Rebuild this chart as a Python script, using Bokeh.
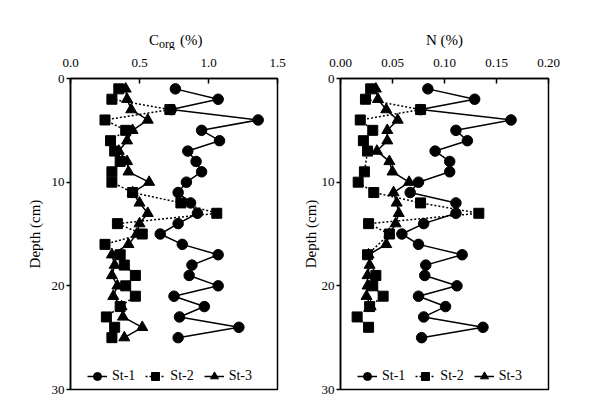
from bokeh.plotting import figure
from bokeh.models import Range1d, FixedTicker, PrintfTickFormatter, Label, Legend, LegendItem
from bokeh.layouts import row, column
from bokeh.embed import file_html
from bokeh.resources import INLINE

# ---------------- data ----------------
depth = list(range(1, 26))

corg_st1 = [0.76, 1.07, 0.73, 1.36, 0.95, 1.08, 0.85, 0.91, 0.95, 0.84, 0.78, 0.87, 0.92,
            0.78, 0.65, 0.81, 1.07, 0.88, 0.86, 1.07, 0.75, 0.97, 0.79, 1.22, 0.78]
corg_st2 = [0.35, 0.30, 0.72, 0.25, 0.40, 0.29, 0.32, 0.36, 0.30, 0.30, 0.45, 0.80, 1.06,
            0.34, 0.52, 0.25, 0.36, 0.39, 0.47, 0.40, 0.47, 0.36, 0.26, 0.32, 0.30]
corg_st3 = [0.40, 0.41, 0.44, 0.56, 0.45, 0.41, 0.35, 0.41, 0.42, 0.57, 0.45, 0.50, 0.56,
            0.50, 0.48, 0.42, 0.30, 0.32, 0.30, 0.34, 0.31, 0.37, 0.38, 0.52, 0.39]

n_st1 = [0.084, 0.129, 0.077, 0.164, 0.111, 0.122, 0.091, 0.105, 0.105, 0.075, 0.067, 0.111, 0.111,
         0.080, 0.059, 0.075, 0.117, 0.082, 0.081, 0.112, 0.075, 0.101, 0.080, 0.137, 0.078]
n_st2_depth = [1, 2, 3, 4, 5, 6, 7, 9, 10, 11, 12, 13, 14, 15, 17, 19, 20, 21, 22, 23, 24]
n_st2 = [0.029, 0.024, 0.077, 0.019, 0.031, 0.022, 0.026, 0.023, 0.017, 0.032, 0.077, 0.133,
         0.027, 0.047, 0.026, 0.034, 0.031, 0.041, 0.028, 0.016, 0.027]
n_st3_depth = list(range(1, 23))
n_st3 = [0.034, 0.036, 0.044, 0.055, 0.045, 0.045, 0.035, 0.047, 0.050, 0.066, 0.051, 0.054,
         0.056, 0.053, 0.047, 0.044, 0.027, 0.028, 0.026, 0.026, 0.025, 0.029]

series_names = ["St-1", "St-2", "St-3"]
depth_ticks = [0, 10, 20, 30]
corg_ticks = [0.0, 0.5, 1.0, 1.5]
n_ticks = [0.00, 0.05, 0.10, 0.15, 0.20]

FONT = "Liberation Serif"
FRAME_H = 311
STRIP_H = 50
TOP = 78 - STRIP_H


def make_panel(xmax, xticks, fmt, series, min_left, frame_w, min_right, ylabel_standoff):
    p = figure(width=min_left + frame_w + min_right, height=TOP + FRAME_H + 8,
               x_range=Range1d(0, xmax), y_range=Range1d(30, 0),
               x_axis_location="above", output_backend="svg", toolbar_location=None,
               min_border_left=min_left, min_border_right=min_right,
               min_border_top=TOP, min_border_bottom=8)
    p.grid.visible = False
    p.outline_line_color = "black"
    p.outline_line_width = 1.5
    p.background_fill_color = "white"
    p.border_fill_color = "white"

    xa = p.xaxis[0]
    xa.ticker = FixedTicker(ticks=xticks)
    xa.formatter = PrintfTickFormatter(format=fmt)
    xa.major_tick_in = 5
    xa.major_tick_out = 0
    xa.minor_tick_line_color = None
    xa.axis_line_width = 1.5
    xa.major_tick_line_width = 1.5
    xa.major_label_text_font = FONT
    xa.major_label_text_font_size = "13px"
    xa.major_label_text_color = "black"
    xa.major_label_standoff = 12

    ya = p.yaxis[0]
    ya.ticker = FixedTicker(ticks=depth_ticks)
    ya.major_tick_in = 0
    ya.major_tick_out = 4
    ya.minor_tick_line_color = None
    ya.axis_line_width = 1.5
    ya.major_tick_line_width = 1.5
    ya.major_label_text_font = FONT
    ya.major_label_text_font_size = "13px"
    ya.major_label_text_color = "black"
    ya.major_label_standoff = 2
    ya.axis_label = "Depth (cm)"
    ya.axis_label_text_font = FONT
    ya.axis_label_text_font_style = "normal"
    ya.axis_label_text_font_size = "15px"
    ya.axis_label_text_color = "black"
    ya.axis_label_standoff = ylabel_standoff

    markers = ["circle", "square", "triangle"]
    sizes = [10.5, 10, 11]
    dashes = ["solid", "2 2", "solid"]
    items = []
    for (xs, ys), name, m, s, d in zip(series, series_names, markers, sizes, dashes):
        lr = p.line(xs, ys, line_color="black", line_width=1.5, line_dash=d)
        sr = p.scatter(xs, ys, marker=m, size=s, fill_color="black", line_color="black")
        items.append(LegendItem(label=name, renderers=[lr, sr]))

    legend = Legend(items=items, orientation="horizontal", location=(17, 3),
                    padding=0, margin=0, spacing=10, label_standoff=5,
                    glyph_width=20, glyph_height=20,
                    border_line_alpha=0, background_fill_alpha=0,
                    label_text_font=FONT, label_text_font_size="14px",
                    label_text_color="black")
    p.add_layout(legend, "center")
    return p


p1 = make_panel(1.5, corg_ticks, "%.1f",
                [(corg_st1, depth), (corg_st2, depth), (corg_st3, depth)], 70, 207, 17, 6)
p2 = make_panel(0.2, n_ticks, "%.2f",
                [(n_st1, depth), (n_st2, n_st2_depth), (n_st3, n_st3_depth)], 46, 208, 20, 0)

total_w = p1.width + p2.width

# title strip above both panels (pixel coordinates)
strip = figure(width=total_w, height=STRIP_H, x_range=Range1d(0, total_w),
               y_range=Range1d(0, STRIP_H), x_axis_type=None, y_axis_type=None,
               output_backend="svg", toolbar_location=None, min_border=0,
               outline_line_color=None)
strip.grid.visible = False
strip.background_fill_color = "white"
strip.border_fill_color = "white"

base_y = STRIP_H - 39.5
sub_y = STRIP_H - 43
c_center = 70 + 207 / 2
n_center = p1.width + 46 + 208 / 2
for txt, xx, yy, fs in [("C", c_center - 25, base_y, "15px"),
                        ("org", c_center - 15, sub_y, "12px"),
                        ("(%)", c_center + 6, base_y, "15px")]:
    strip.add_layout(Label(x=xx, y=yy, text=txt, text_align="left",
                           text_baseline="alphabetic", text_font=FONT,
                           text_font_size=fs, text_color="black"))
strip.add_layout(Label(x=n_center, y=base_y, text="N (%)", text_align="center",
                       text_baseline="alphabetic", text_font=FONT,
                       text_font_size="15px", text_color="black"))

layout = column(strip, row(p1, p2))
open("out.html", "w").write(file_html(layout, INLINE))
